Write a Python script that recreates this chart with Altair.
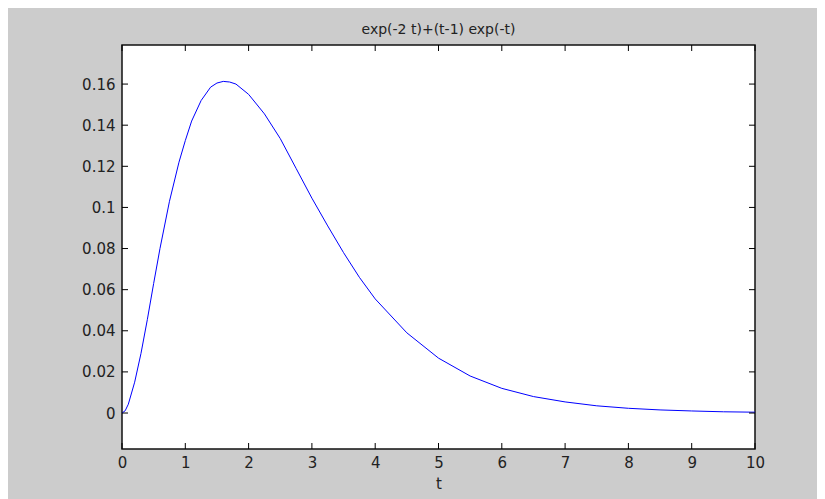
import altair as alt
import pandas as pd

# values
t_vals = [0.0, 0.05, 0.1, 0.2, 0.3, 0.4, 0.5, 0.6, 0.75, 0.9, 1.0, 1.1, 1.25, 1.4, 1.5, 1.6, 1.7,
          1.8, 2.0, 2.25, 2.5, 2.75, 3.0, 3.25, 3.5, 3.75, 4.0, 4.5, 5.0, 5.5, 6.0, 6.5, 7.0,
          7.5, 8.0, 8.5, 9.0, 9.5, 10.0]
y_vals = [0.0, 0.0011, 0.0043, 0.0150, 0.0290, 0.0454, 0.0630, 0.0800, 0.1030, 0.1220, 0.1325,
          0.1420, 0.1520, 0.1585, 0.1605, 0.1613, 0.1610, 0.1600, 0.1550, 0.1455, 0.1335,
          0.1190, 0.1045, 0.0910, 0.0780, 0.0660, 0.0555, 0.0390, 0.0267, 0.0180, 0.0120,
          0.0080, 0.0054, 0.0035, 0.0023, 0.0015, 0.0010, 0.0006, 0.0004]

x_ticks = [0, 1, 2, 3, 4, 5, 6, 7, 8, 9, 10]
y_ticks = [0, 0.02, 0.04, 0.06, 0.08, 0.1, 0.12, 0.14, 0.16]

title_text = "exp(-2 t)+(t-1) exp(-t)"
x_title = "t"

W, H = 633, 404
TICK = 6
FONT = "DejaVu Sans"
TXT = "#222222"

curve = pd.DataFrame({"t": t_vals, "y": y_vals})
xt = pd.DataFrame({"t": x_ticks})
yt = pd.DataFrame({"y": y_ticks})

xscale = alt.Scale(domain=[0, 10], nice=False, zero=False)
yscale = alt.Scale(domain=[-0.0175, 0.179], nice=False, zero=False)

line = alt.Chart(curve).mark_line(color="#0000ff", strokeWidth=1).encode(
    x=alt.X("t:Q", scale=xscale, title=x_title,
            axis=alt.Axis(values=x_ticks, format="d", labelPadding=6, titlePadding=6,
                          labelFlush=False)),
    y=alt.Y("y:Q", scale=yscale, title=None,
            axis=alt.Axis(values=y_ticks, format=".2~f", labelPadding=7)),
)

xb = alt.Chart(xt).mark_rule(color="#000000", strokeWidth=1).encode(
    x=alt.X("t:Q", scale=xscale), y=alt.value(H - TICK), y2=alt.value(H))
xtop = alt.Chart(xt).mark_rule(color="#000000", strokeWidth=1).encode(
    x=alt.X("t:Q", scale=xscale), y=alt.value(0), y2=alt.value(TICK))
yl = alt.Chart(yt).mark_rule(color="#000000", strokeWidth=1).encode(
    y=alt.Y("y:Q", scale=yscale), x=alt.value(0), x2=alt.value(TICK))
yr = alt.Chart(yt).mark_rule(color="#000000", strokeWidth=1).encode(
    y=alt.Y("y:Q", scale=yscale), x=alt.value(W - TICK), x2=alt.value(W))

chart = alt.layer(line, xb, xtop, yl, yr).properties(
    width=W, height=H,
    title=alt.TitleParams(title_text, fontSize=14, fontWeight="normal", font=FONT,
                          color=TXT, offset=8, anchor="middle"),
    autosize=alt.AutoSizeParams(type="none"),
    padding={"left": 114, "top": 37, "right": 62, "bottom": 50},
    background="#cccccc",
).configure_view(
    fill="#ffffff", stroke="#111111", strokeWidth=1.5
).configure_axis(
    grid=False, domain=False, tickSize=0, labelFont=FONT, labelFontSize=15,
    labelColor=TXT, titleFont=FONT, titleFontSize=15, titleFontWeight="normal",
    titleColor=TXT
)

chart.save("out.html", embed_options={"renderer": "svg", "actions": False})
